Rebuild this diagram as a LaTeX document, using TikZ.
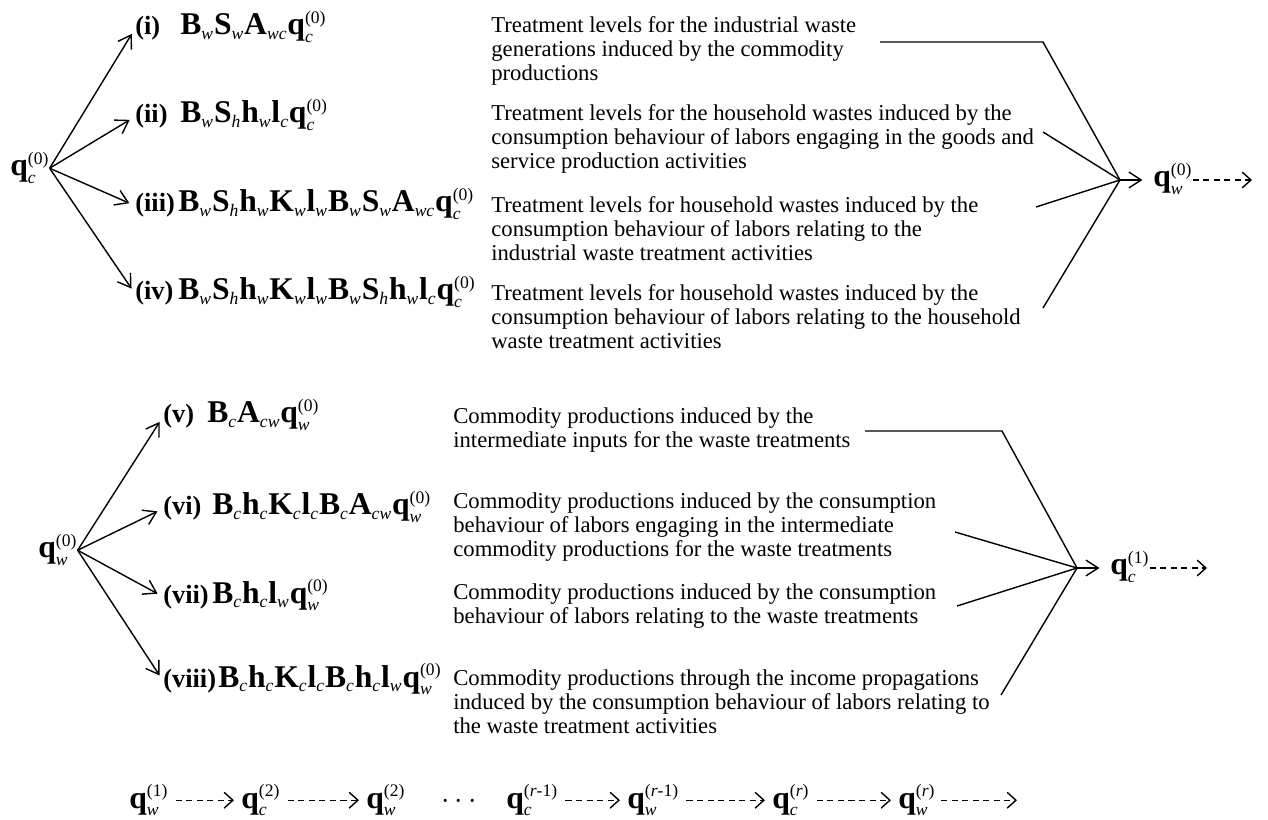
\documentclass[tikz,border=0pt]{standalone}
\usepackage{amsmath}
\usepackage{fontspec}
\setmainfont{Liberation Serif}
\usepackage{tikz}
\usetikzlibrary{arrows.meta,calc}
\DeclareMathSizes{18}{18}{10}{7}

\newcommand{\mt}[2]{\textbf{#1}$_{\textit{#2}}$}
\newcommand{\qv}[2]{\textbf{q}$_{\textit{#1}}^{\text{#2}}$}

\begin{document}
\begin{tikzpicture}[x=0.02cm,y=-0.02cm,
  every node/.style={inner sep=0pt},
  root/.style={anchor=base west,font=\fontsize{18}{20}\selectfont},
  tag/.style={anchor=base west,font=\fontsize{15}{17}\selectfont\bfseries},
  expr/.style={anchor=base west,font=\fontsize{18}{20}\selectfont},
  desc/.style={anchor=north west,align=left,font=\fontsize{12.9}{13.6}\selectfont},
  to/.style={-{Straight Barb[length=7pt,width=9pt]},line width=0.8pt,shorten >=3.5pt},
  dashto/.style={-{Straight Barb[length=5pt,width=9pt]},line width=0.8pt,dash pattern=on 3.5pt off 2.5pt},
  link/.style={line width=0.8pt}]

    \useasboundingbox (0,0) rectangle (1268,820);

    % waste treatment part
    \node[root](qc0) at (10,176) {\qv{c}{(0)}};

    \node[tag](t1) at (135,35) {(i)};
    \node[tag](t2) at (135,123) {(ii)};
    \node[tag](t3) at (135,212) {(iii)};
    \node[tag](t4) at (135,300) {(iv)};

    \node[expr](f1) at (180,35) {\mt{B}{w}\mt{S}{w}\mt{A}{wc}\qv{c}{(0)}};
    \node[expr](f2) at (180,123) {\mt{B}{w}\mt{S}{h}\mt{h}{w}\mt{l}{c}\qv{c}{(0)}};
    \node[expr](f3) at (178,212) {\mt{B}{w}\mt{S}{h}\mt{h}{w}\mt{K}{w}\mt{l}{w}\mt{B}{w}\mt{S}{w}\mt{A}{wc}\qv{c}{(0)}};
    \node[expr](f4) at (178,300) {\mt{B}{w}\mt{S}{h}\mt{h}{w}\mt{K}{w}\mt{l}{w}\mt{B}{w}\mt{S}{h}\mt{h}{w}\mt{l}{c}\qv{c}{(0)}};

    \node[desc](d1) at (491,16.5) {Treatment levels for the industrial waste\\generations induced by the commodity\\productions};
    \node[desc](d2) at (491,104.5) {Treatment levels for the household wastes induced by the\\consumption behaviour of labors engaging in the goods and\\service production activities};
    \node[desc](d3) at (491,196.5) {Treatment levels for household wastes induced by the\\consumption behaviour of labors relating to the\\industrial waste treatment activities};
    \node[desc](d4) at (491,284.5) {Treatment levels for household wastes induced by the\\consumption behaviour of labors relating to the household\\waste treatment activities};

    \node[root](qw0r) at (1153,187) {\qv{w}{(0)}};

    \coordinate (s1) at (880,42);
    \coordinate (k1) at (1043,42);
    \coordinate (s2) at (1043,132);
    \coordinate (s3) at (1036,207);
    \coordinate (s4) at (1043,308);
    \coordinate (j1) at (1120,180);
    \coordinate (e1) at (1252,180);

    \foreach \t in {t1,t2,t3,t4}
        \draw[to](qc0.east) -- (\t.west);
    \draw[link](s1) -- (k1) -- (j1);
    \foreach \s in {s2,s3,s4}
        \draw[link](\s) -- (j1);
    \draw[to,shorten >=6pt](j1) -- (j1 -| qw0r.west);
    \draw[dashto](qw0r.east |- j1) -- (e1);

    % commodity part
    \node[root](qw0) at (38,558) {\qv{w}{(0)}};

    \node[tag](t5) at (163,423) {(v)};
    \node[tag](t6) at (163,515) {(vi)};
    \node[tag](t7) at (163,603) {(vii)};
    \node[tag](t8) at (163,687) {(viii)};

    \node[expr](f5) at (207,423) {\mt{B}{c}\mt{A}{cw}\qv{w}{(0)}};
    \node[expr](f6) at (212,515) {\mt{B}{c}\mt{h}{c}\mt{K}{c}\mt{l}{c}\mt{B}{c}\mt{A}{cw}\qv{w}{(0)}};
    \node[expr](f7) at (212,603) {\mt{B}{c}\mt{h}{c}\mt{l}{w}\qv{w}{(0)}};
    \node[expr](f8) at (218,687) {\mt{B}{c}\mt{h}{c}\mt{K}{c}\mt{l}{c}\mt{B}{c}\mt{h}{c}\mt{l}{w}\qv{w}{(0)}};

    \node[desc](d5) at (453,407.5) {Commodity productions induced by the\\intermediate inputs for the waste treatments};
    \node[desc](d6) at (453,492.5) {Commodity productions induced by the consumption\\behaviour of labors engaging in the intermediate\\commodity productions for the waste treatments};
    \node[desc](d7) at (453,583.5) {Commodity productions induced by the consumption\\behaviour of labors relating to the waste treatments};
    \node[desc](d8) at (453,669.5) {Commodity productions through the income propagations\\induced by the consumption behaviour of labors relating to\\the waste treatment activities};

    \node[root](qc1) at (1110,575) {\qv{c}{(1)}};

    \coordinate (s5) at (865,431);
    \coordinate (k5) at (1002,431);
    \coordinate (s6) at (955,532);
    \coordinate (s7) at (957,606);
    \coordinate (s8) at (1001,695);
    \coordinate (j2) at (1077,568);
    \coordinate (e2) at (1207,568);

    \foreach \t in {t5,t6,t7,t8}
        \draw[to](qw0.east) -- (\t.west);
    \draw[link](s5) -- (k5) -- (j2);
    \foreach \s in {s6,s7,s8}
        \draw[link](\s) -- (j2);
    \draw[to,shorten >=6pt](j2) -- (j2 -| qc1.west);
    \draw[dashto](qc1.east |- j2) -- (e2);

    % iteration chain
    \node[root](b1) at (129,808) {\qv{w}{(1)}};
    \node[root](b2) at (241,808) {\qv{c}{(2)}};
    \node[root](b3) at (366,808) {\qv{w}{(2)}};
    \node[root](dots) at (441,808) {$\cdots$};
    \node[root](b4) at (506,808) {\qv{c}{(\textit{r}-1)}};
    \node[root](b5) at (627,808) {\qv{w}{(\textit{r}-1)}};
    \node[root](b6) at (772,808) {\qv{c}{(\textit{r})}};
    \node[root](b7) at (898,808) {\qv{w}{(\textit{r})}};
    \coordinate (e3) at (1017,803);

    \foreach \a/\b in {b1/b2,b2/b3,b4/b5,b5/b6,b6/b7}
        \draw[dashto,shorten <=4pt,shorten >=4pt](\a.east) -- (\a.east -| \b.west);
    \draw[dashto,shorten <=3pt](b7.east) -- (b7.east -| e3);
\end{tikzpicture}
\end{document}
